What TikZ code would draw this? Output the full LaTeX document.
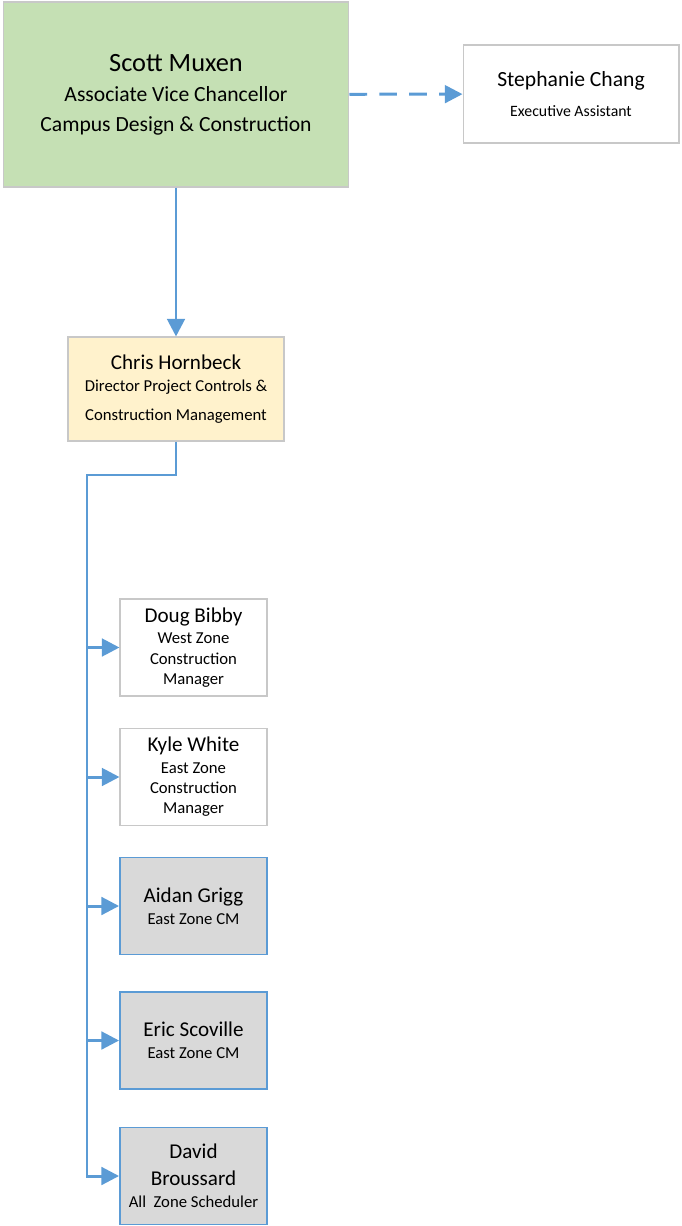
\documentclass[tikz,border=0pt]{standalone}
\usepackage{fontspec}
\setmainfont{Carlito}
\usetikzlibrary{arrows.meta}

\definecolor{avcgreen}{HTML}{C5E0B4}
\definecolor{diryellow}{HTML}{FFF2CC}
\definecolor{cmgray}{HTML}{D9D9D9}
\definecolor{linkblue}{HTML}{5B9BD5}
\definecolor{boxgray}{HTML}{C8C8C8}

\begin{document}
\begin{tikzpicture}[x=0.02cm,y=-0.02cm,
	box/.style={draw=boxgray,line width=0.6pt,align=center,inner sep=0pt},
	staffbox/.style={box,fill=white,minimum width=2.94cm,minimum height=1.94cm,font=\fontsize{9.5}{11.5}\selectfont},
	cmbox/.style={staffbox,draw=linkblue,line width=1.1pt,fill=cmgray},
	link/.style={draw=linkblue,line width=1.7pt,-{Triangle[length=10pt,width=10pt]}}]

		\useasboundingbox (0,0) rectangle (681,1226);

		\node[box,fill=avcgreen,minimum width=6.92cm,minimum height=3.7cm,font=\fontsize{12.3}{17}\selectfont] (scott) at (176,94.5)
			{{\fontsize{15}{17}\selectfont Scott Muxen}\\Associate Vice Chancellor\\Campus Design \& Construction};

		\node[box,fill=white,minimum width=4.32cm,minimum height=1.96cm,font=\fontsize{9}{17.5}\selectfont] (stephanie) at (571,94)
			{{\fontsize{12.3}{17.5}\selectfont Stephanie Chang}\\Executive Assistant};

		\node[box,fill=diryellow,minimum width=4.32cm,minimum height=2.08cm,font=\fontsize{9.5}{12.5}\selectfont] (chris) at (176,389)
			{{\fontsize{12}{12.5}\selectfont Chris Hornbeck}\\Director Project Controls \&\\[4pt]Construction Management};


		\node[staffbox] (doug) at (193.5,647.5)
			{{\fontsize{12}{11.5}\selectfont Doug Bibby}\\[0.8pt]West Zone\\Construction\\Manager};

		\node[staffbox] (kyle) at (193.5,777)
			{{\fontsize{12}{11.5}\selectfont Kyle White}\\[0.8pt]East Zone\\Construction\\Manager};

		\node[cmbox,font=\fontsize{9.5}{12.5}\selectfont] (aidan) at (193.5,906)
			{{\fontsize{12}{12.5}\selectfont Aidan Grigg}\\East Zone CM};

		\node[cmbox,font=\fontsize{9.5}{12.5}\selectfont] (eric) at (193.5,1040.5)
			{{\fontsize{12}{12.5}\selectfont Eric Scoville}\\East Zone CM};

		\node[cmbox,font=\fontsize{12}{15.3}\selectfont] (david) at (193.5,1176)
			{David\\Broussard\\[-2.8pt]{\fontsize{9.5}{12.5}\selectfont All\ \ Zone Scheduler}};


		\draw[link] (scott) -- (chris);
		\draw[link,dash pattern=on 10pt off 7pt] (scott) -- (stephanie);

		\coordinate (elbow) at (87,475);

		\draw[link] (chris.south) |- (elbow) |- (david.west);
		\draw[link] (elbow |- doug.west) -- (doug.west);
		\draw[link] (elbow |- kyle.west) -- (kyle.west);
		\draw[link] (elbow |- aidan.west) -- (aidan.west);
		\draw[link] (elbow |- eric.west) -- (eric.west);

\end{tikzpicture}
\end{document}
